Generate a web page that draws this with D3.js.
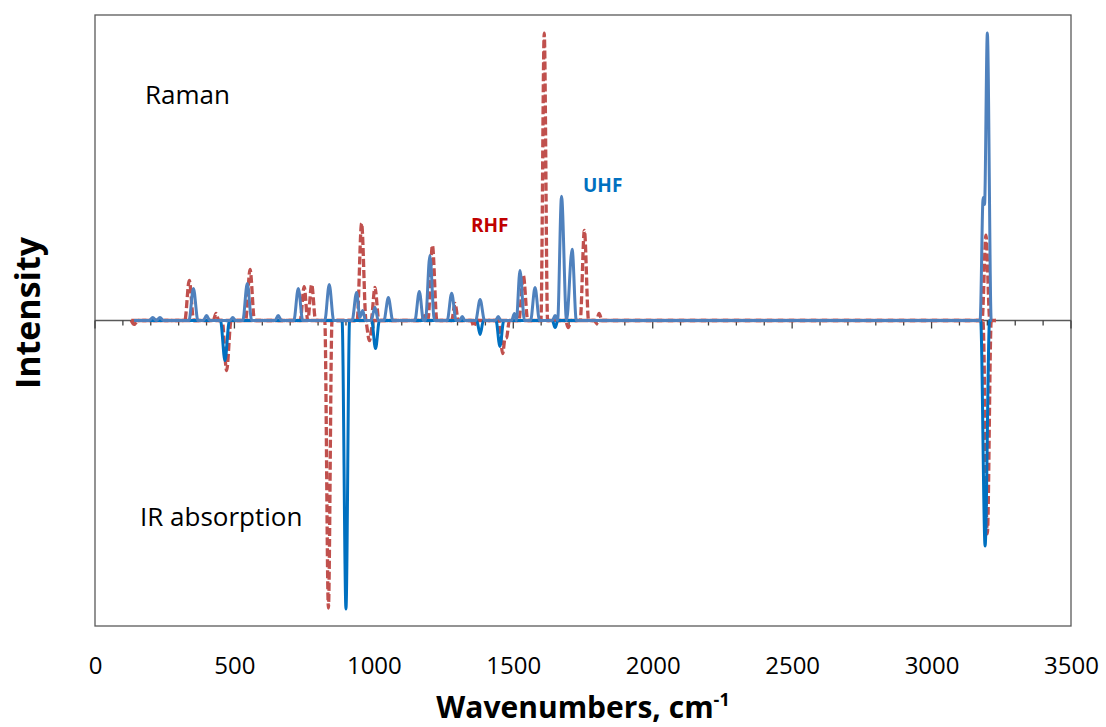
<!DOCTYPE html>
<html>
<head>
<meta charset="utf-8">
<script src="https://cdn.jsdelivr.net/npm/d3@7/dist/d3.min.js"></script>
<style>
  html, body { margin: 0; padding: 0; background: #fff; }
  svg { display: block; }
  text { font-family: "Open Sans", "DejaVu Sans", sans-serif; }
</style>
</head>
<body>
<svg id="chart" width="1106" height="727"></svg>
<script>
// Spectral traces: [wavenumber (cm-1), intensity (arb. units)]
// Raman activity is plotted upward, IR absorption downward.
const uhfRaman = [
  [140,0],[195,0],[207,1],[220,0],[233,1],[245,0],
  [337,0],[353,10.5],[369,0],[388,0],[400,1.6],[412,0],
  [484,0],[494,1],[504,0],[530,0],[546,12.1],[562,0],
  [645,0],[657,1.6],[669,0],[713,0],[729,10.5],[745,0],
  [824,0],[840,11.8],[856,0],[922,0],[938,9.2],[950,1],[960,3.3],[970,0],
  [990,0],[1004,4.3],[1016,0],[1036,0],[1052,7.5],[1068,0],
  [1147,0],[1163,9.5],[1178,0],[1185,0],[1201,21.3],[1217,0],
  [1263,0],[1279,8.9],[1295,0],[1307,0],[1317,1.3],[1327,0],
  [1365,0],[1381,6.9],[1397,0],[1436,0],[1446,1.3],[1456,0],
  [1494,0],[1504,2.3],[1511,0],[1524,16.4],[1540,0],
  [1562,0],[1578,10.8],[1594,0],
  [1640,0],[1650,1.6],[1659,0],[1673,40.7],[1691,0],[1711,23.3],[1726,0],
  [3174,0],[3185,40.3],[3190,38],[3200,94.1],[3214,0],[3216,0]
];
const uhfIR = [
  [140,0],[450,0],[466,-13.1],[482,0],
  [886,0],[900,-94.4],[913,0],
  [992,0],[1006,-9.2],[1020,0],
  [1369,0],[1381,-4.6],[1393,0],
  [1438,0],[1452,-8.5],[1466,0],
  [1640,0],[1650,-2.3],[1660,0],
  [3176,0],[3192,-73.8],[3208,0],[3216,0]
];
const rhfRaman = [
  [130,0],[322,0],[338,13.1],[354,0],[424,0],[434,2.3],[444,0],
  [540,0],[556,16.7],[572,0],
  [736,0],[750,11.1],[763,0],[777,11.8],[791,0],
  [940,0],[956,31.8],[972,0],[990,0],[1004,10.8],[1018,0],
  [1170,0],[1182,1.6],[1194,0],[1210,24.6],[1226,0],
  [1279,0],[1291,5.6],[1303,0],
  [1520,0],[1536,14.8],[1552,0],
  [1599,0],[1611,94.1],[1623,0],
  [1740,0],[1755,29.5],[1770,0],[1798,0],[1808,2.3],[1818,0],
  [3181,0],[3195,27.9],[3209,0],[3230,0]
];
const rhfIR = [
  [130,0],[140,-1.3],[155,0],
  [456,0],[472,-16.4],[488,0],
  [824,0],[837,-94.1],[850,0],
  [970,0],[984,-6.6],[998,0],
  [1349,0],[1359,-2],[1369,0],
  [1448,0],[1462,-10.8],[1470,-6],[1476,-5.6],[1486,0],
  [1687,0],[1697,-2.3],[1707,0],
  [1791,0],[1799,-1],[1807,0],
  [3184,0],[3200,-69.8],[3214,0],[3230,0]
];
const xTickValues = [0, 500, 1000, 1500, 2000, 2500, 3000, 3500];

const svg = d3.select("#chart");
const plot = { left: 95, right: 1071, top: 15, bottom: 626 };

const x = d3.scaleLinear().domain([0, 3500]).range([plot.left, plot.right]);
const y = d3.scaleLinear().domain([-100, 100]).range([plot.bottom, plot.top]);

// plot frame
svg.append("rect")
  .attr("x", plot.left).attr("y", plot.top)
  .attr("width", plot.right - plot.left).attr("height", plot.bottom - plot.top)
  .attr("fill", "none").attr("stroke", "#595959").attr("stroke-width", 1.3);

// zero axis with minor (100) and major (500) ticks
const zeroAxis = svg.append("g").attr("transform", `translate(0,${y(0)})`);
zeroAxis.append("line")
  .attr("x1", plot.left).attr("x2", plot.right)
  .attr("stroke", "#595959").attr("stroke-width", 1.3);
zeroAxis.selectAll("line.tick")
  .data(d3.range(0, 3501, 100))
  .join("line").attr("class", "tick")
  .attr("x1", d => x(d)).attr("x2", d => x(d))
  .attr("y1", 0).attr("y2", d => d % 500 === 0 ? 8 : 5)
  .attr("stroke", "#404040").attr("stroke-width", 1.3);

// tick labels along the bottom
const bottomAxis = d3.axisBottom(x).tickValues(xTickValues).tickSize(0).tickPadding(0).tickFormat(d3.format("d"));
const gb = svg.append("g").attr("transform", `translate(0,${plot.bottom})`).call(bottomAxis);
gb.select(".domain").remove();
gb.selectAll("text")
  .attr("y", 48).attr("dy", null)
  .attr("font-size", 24).attr("font-family", "Open Sans")
  .attr("fill", "#000");

// traces
const line = d3.line()
  .x(d => x(d[0])).y(d => y(d[1]))
  .curve(d3.curveMonotoneX);

const traces = [
  { data: rhfIR,    color: "#C0504D", width: 3.3, dash: "8,3" },
  { data: rhfRaman, color: "#C0504D", width: 3.3, dash: "8,3" },
  { data: uhfIR,    color: "#0070C0", width: 3,   dash: null },
  { data: uhfRaman, color: "#4F81BD", width: 3,   dash: null }
];
svg.append("g").selectAll("path")
  .data(traces)
  .join("path")
  .attr("d", d => line(d.data))
  .attr("fill", "none")
  .attr("stroke", d => d.color)
  .attr("stroke-width", d => d.width)
  .attr("stroke-linejoin", "round")
  .attr("stroke-dasharray", d => d.dash);

// annotations
svg.append("text").attr("x", 145).attr("y", 104)
  .attr("font-size", 26).attr("fill", "#000").text("Raman");
svg.append("text").attr("x", 140).attr("y", 526)
  .attr("font-size", 26).attr("fill", "#000").text("IR absorption");
svg.append("text").attr("x", 471).attr("y", 232)
  .attr("font-size", 19).attr("font-weight", "bold").attr("fill", "#C00000").text("RHF");
svg.append("text").attr("x", 583).attr("y", 192)
  .attr("font-size", 19).attr("font-weight", "bold").attr("fill", "#0070C0").text("UHF");

// axis titles
const xt = svg.append("text")
  .attr("x", 583).attr("y", 718)
  .attr("text-anchor", "middle")
  .attr("font-size", 30).attr("font-weight", "bold").attr("fill", "#000");
xt.append("tspan").text("Wavenumbers, cm");
xt.append("tspan").attr("dy", -12).attr("font-size", 18).text("-1");

svg.append("text")
  .attr("transform", "translate(40,313) rotate(-90)")
  .attr("text-anchor", "middle")
  .attr("font-size", 34).attr("font-weight", "bold").attr("fill", "#000")
  .text("Intensity");
</script>
</body>
</html>
